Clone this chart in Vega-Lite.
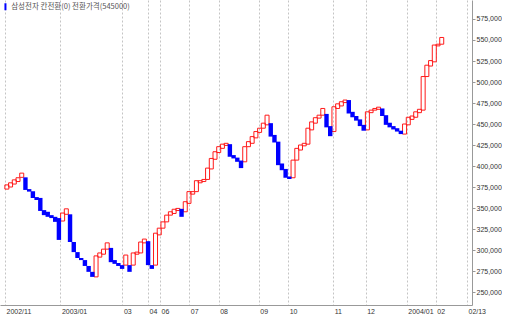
{
  "$schema": "https://vega.github.io/schema/vega-lite/v6.json",
  "width": 472,
  "height": 305,
  "padding": 0,
  "background": "#ffffff",
  "view": {"stroke": null},
  "config": {"font": "Liberation Sans"},
  "data": {"values": [
    {"i":0,"open":372500,"close":377500},{"i":1,"open":375000,"close":380000},{"i":2,"open":378500,"close":383500},
    {"i":3,"open":381500,"close":386000},{"i":4,"open":386500,"close":391500},{"i":5,"open":386500,"close":371500},
    {"i":6,"open":372500,"close":369500},{"i":7,"open":370000,"close":362000},{"i":8,"open":363000,"close":359500},
    {"i":9,"open":362000,"close":346500},{"i":10,"open":347500,"close":341500},{"i":11,"open":345500,"close":339500},
    {"i":12,"open":341500,"close":338000},{"i":13,"open":339500,"close":333500},{"i":14,"open":338000,"close":312000},
    {"i":15,"open":334500,"close":344000},{"i":16,"open":342500,"close":349000},{"i":17,"open":342500,"close":309500},
    {"i":18,"open":309500,"close":297500},{"i":19,"open":297500,"close":290500},{"i":20,"open":290500,"close":288000},
    {"i":21,"open":288000,"close":281000},{"i":22,"open":281000,"close":274000},{"i":23,"open":274000,"close":268000},
    {"i":24,"open":268000,"close":293000},{"i":25,"open":291500,"close":296500},{"i":26,"open":295000,"close":301000},
    {"i":27,"open":301000,"close":308500},{"i":28,"open":302500,"close":285500},{"i":29,"open":288000,"close":283500},
    {"i":30,"open":284500,"close":281000},{"i":31,"open":282000,"close":277500},{"i":32,"open":282000,"close":294000},
    {"i":33,"open":282000,"close":274000},{"i":34,"open":282000,"close":296500},{"i":35,"open":295000,"close":297500},
    {"i":36,"open":296500,"close":309500},{"i":37,"open":308500,"close":313000},{"i":38,"open":310500,"close":282000},
    {"i":39,"open":282000,"close":277500},{"i":40,"open":282000,"close":320000},{"i":41,"open":318000,"close":326000},
    {"i":42,"open":326000,"close":333500},{"i":43,"open":333500,"close":341500},{"i":44,"open":341500,"close":345500},
    {"i":45,"open":343500,"close":348500},{"i":46,"open":347000,"close":349500},{"i":47,"open":349000,"close":339500},
    {"i":48,"open":345500,"close":357500},{"i":49,"open":355500,"close":369500},{"i":50,"open":366500,"close":369500},
    {"i":51,"open":369500,"close":382500},{"i":52,"open":380000,"close":382500},{"i":53,"open":381500,"close":384000},
    {"i":54,"open":384000,"close":397500},{"i":55,"open":396500,"close":409000},{"i":56,"open":408000,"close":417000},
    {"i":57,"open":416000,"close":423000},{"i":58,"open":421000,"close":426000},{"i":59,"open":424500,"close":427000},
    {"i":60,"open":426000,"close":411000},{"i":61,"open":413000,"close":409000},{"i":62,"open":410000,"close":405000},
    {"i":63,"open":406500,"close":397500},{"i":64,"open":405000,"close":423000},{"i":65,"open":423000,"close":429000},
    {"i":66,"open":427000,"close":435000},{"i":67,"open":433500,"close":441000},{"i":68,"open":440000,"close":445000},
    {"i":69,"open":445000,"close":451000},{"i":70,"open":449000,"close":460500},{"i":71,"open":451000,"close":435000},
    {"i":72,"open":437000,"close":428000},{"i":73,"open":429000,"close":401000},{"i":74,"open":403000,"close":395000},
    {"i":75,"open":396500,"close":386000},{"i":76,"open":387500,"close":384500},{"i":77,"open":386000,"close":407000},
    {"i":78,"open":407000,"close":421000},{"i":79,"open":419000,"close":425000},{"i":80,"open":424000,"close":427000},
    {"i":81,"open":426000,"close":445000},{"i":82,"open":443000,"close":452500},{"i":83,"open":451000,"close":457500},
    {"i":84,"open":457000,"close":460500},{"i":85,"open":460500,"close":468500},{"i":86,"open":462000,"close":446000},
    {"i":87,"open":447500,"close":435500},{"i":88,"open":441000,"close":470500},{"i":89,"open":468500,"close":474000},
    {"i":90,"open":471500,"close":476500},{"i":91,"open":475500,"close":478500},{"i":92,"open":478500,"close":462500},
    {"i":93,"open":464500,"close":458000},{"i":94,"open":459500,"close":454000},{"i":95,"open":455500,"close":447500},
    {"i":96,"open":449000,"close":442000},{"i":97,"open":443000,"close":464500},{"i":98,"open":463500,"close":466500},
    {"i":99,"open":466500,"close":468500},{"i":100,"open":467500,"close":470000},{"i":101,"open":468500,"close":459500},
    {"i":102,"open":460500,"close":449000},{"i":103,"open":451500,"close":446000},{"i":104,"open":447500,"close":443500},
    {"i":105,"open":445000,"close":441000},{"i":106,"open":442000,"close":438000},{"i":107,"open":438000,"close":450000},
    {"i":108,"open":449000,"close":458000},{"i":109,"open":455500,"close":459500},{"i":110,"open":458000,"close":464500},
    {"i":111,"open":463500,"close":467500},{"i":112,"open":466500,"close":506500},{"i":113,"open":506500,"close":520000},
    {"i":114,"open":519000,"close":525500},{"i":115,"open":524000,"close":544000},{"i":116,"open":543000,"close":545000},
    {"i":117,"open":545000,"close":553000}
  ]},
  "encoding": {
    "x": {
      "field": "i", "type": "quantitative",
      "scale": {"domain": [-0.5, 123.8], "nice": false, "zero": false},
      "axis": {
        "values": [-0.5, 14.4, 31.1, 38.0, 41.2, 49.1, 57.0, 67.8, 75.7, 87.8, 96.55, 107.6, 115.4, 123.8],
        "labelExpr": "datum.value < 0 ? '2002/11' : datum.value < 20 ? '2003/01' : datum.value < 35 ? '03' : datum.value < 40 ? '04' : datum.value < 45 ? '06' : datum.value < 53 ? '07' : datum.value < 60 ? '08' : datum.value < 70 ? '09' : datum.value < 80 ? '10' : datum.value < 90 ? '11' : datum.value < 100 ? '12' : datum.value < 110 ? '2004/01' : datum.value < 120 ? '02' : '02/13'",
        "grid": true, "gridDash": [2, 2], "gridColor": "#c4c4c4", "gridWidth": 1,
        "ticks": false, "labelAlign": "left", "labelBaseline": "top", "labelPadding": 2, "labelOffset": 1,
        "labelFontSize": 7, "labelFont": "Liberation Sans", "labelColor": "#333333",
        "labelOverlap": false, "labelFlush": false, "labelBound": false,
        "domainColor": "#999999", "title": null
      }
    },
    "y": {
      "field": "open", "type": "quantitative",
      "scale": {"domain": [234524, 597619], "nice": false, "zero": false},
      "axis": {
        "orient": "right",
        "values": [250000, 275000, 300000, 325000, 350000, 375000, 400000, 425000, 450000, 475000, 500000, 525000, 550000, 575000],
        "format": ",d", "grid": false, "tickSize": 3, "tickColor": "#999999", "domainColor": "#999999",
        "labelFontSize": 7, "labelFont": "Liberation Sans", "labelColor": "#333333", "labelPadding": 1,
        "title": null
      }
    },
    "y2": {"field": "close"}
  },
  "layer": [
    {
      "transform": [{"filter": "datum.close > datum.open"}],
      "mark": {"type": "bar", "size": 4, "fill": "transparent", "stroke": "#ff1a1a", "strokeWidth": 1}
    },
    {
      "transform": [{"filter": "datum.close < datum.open"}],
      "mark": {"type": "bar", "size": 4.4, "stroke": null},
      "encoding": {
        "fill": {
          "datum": "삼성전자 칸전환(0)  전환가격(545000)",
          "type": "nominal",
          "scale": {"range": ["#0000ff"]},
          "legend": {
            "title": null, "orient": "none", "legendX": 1.7, "legendY": 3, "padding": 0,
            "symbolType": "M-0.5,-1.75V1.75H0.5V-1.75Z", "symbolSize": 16, "symbolStrokeWidth": 0,
            "labelFont": "Noto Sans CJK KR", "labelFontSize": 7.5, "labelColor": "#555555",
            "labelOffset": 2, "labelLimit": 400
          }
        }
      }
    }
  ]
}
